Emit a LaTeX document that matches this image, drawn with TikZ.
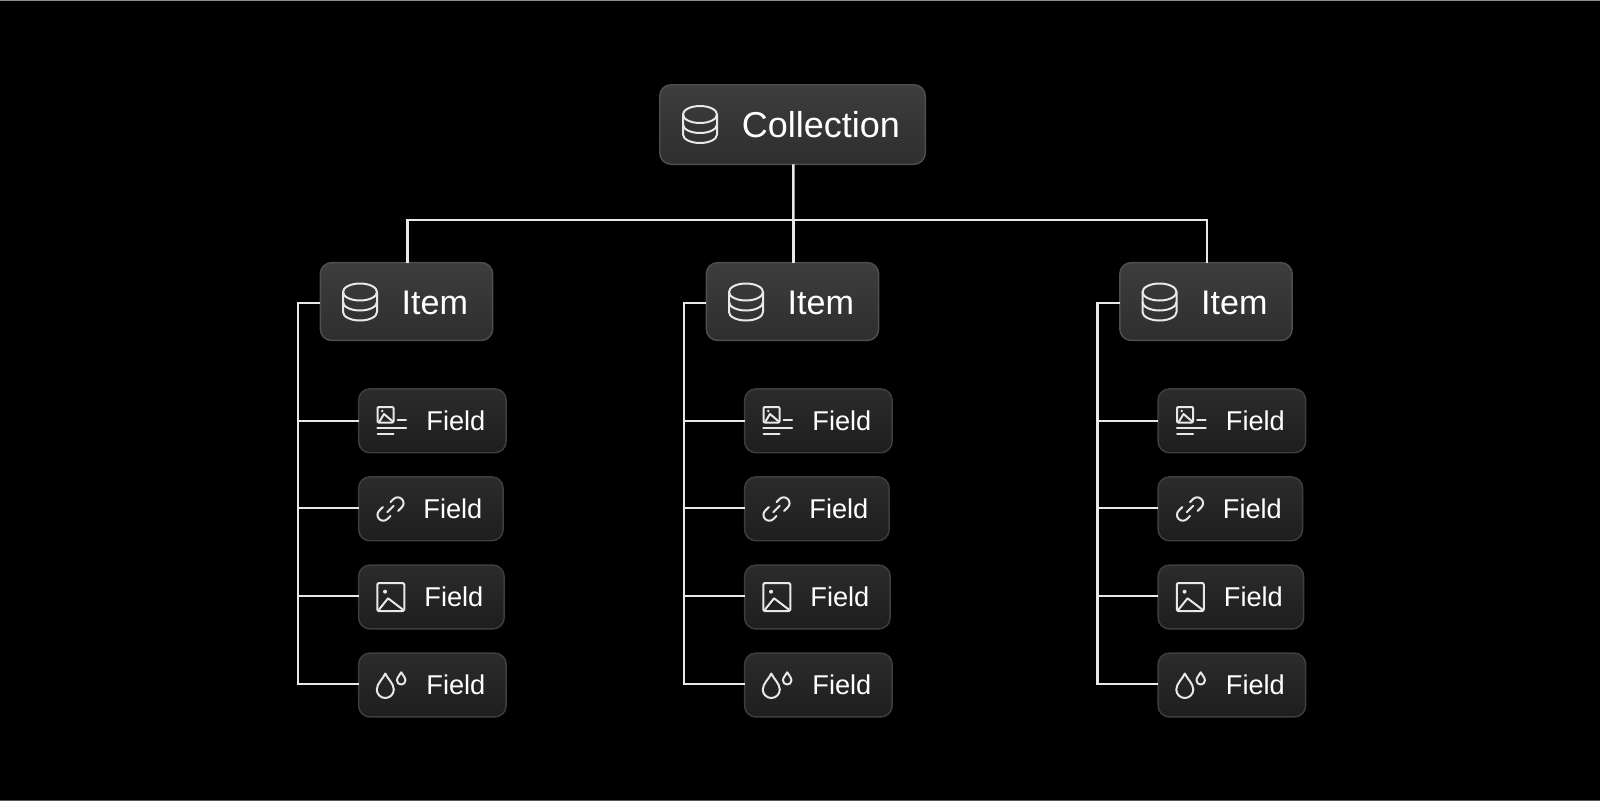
\documentclass[tikz,border=0pt]{standalone}
\usepackage{fontspec}
\setmainfont{Liberation Sans}
\definecolor{collTop}{HTML}{3D3D3D}
\definecolor{collBot}{HTML}{2E2E2E}
\definecolor{collEdge}{HTML}{4E4E4E}
\definecolor{fieldTop}{HTML}{2B2B2B}
\definecolor{fieldBot}{HTML}{1E1E1E}
\definecolor{fieldEdge}{HTML}{3E3E3E}
\definecolor{wire}{HTML}{E8E8E8}
\tikzset{
  boxbase/.style={rounded corners=8.5pt, line width=1.1pt, outer sep=0pt, align=right, text=white},
  collbox/.style={boxbase, draw=collEdge, top color=collTop, bottom color=collBot, font=\fontsize{27}{30}\selectfont,
    text width=161.25pt, inner xsep=18.95pt, minimum height=59.65pt},
  itembox/.style={boxbase, draw=collEdge, top color=collTop, bottom color=collBot, font=\fontsize{25.6}{30}\selectfont,
    text width=92.25pt, text height=19.5pt, inner xsep=18.5pt, minimum height=58.4pt},
  fieldbox/.style={boxbase, draw=fieldEdge, top color=fieldTop, bottom color=fieldBot, font=\fontsize{20.4}{24}\selectfont,
    text width=#1, inner xsep=15.575pt, minimum height=47.9pt, anchor=west},
  wireline/.style={wire, line width=1.8pt},
  iconline/.style={wire, line width=1.5pt, line cap=round, line join=round},
  dbicon/.pic={
    \draw[iconline] (0,-10) ellipse [x radius=17, y radius=8.5];
    \draw[iconline] (-17,-10) -- (-17,10) arc[start angle=180, end angle=0, x radius=17, y radius=8.5] -- (17,-10);
    \draw[iconline] (-17,0) arc[start angle=180, end angle=0, x radius=17, y radius=8.5];
  },
  texticon/.pic={
    \draw[iconline, rounded corners=0.8pt] (-14.5,-14) rectangle (1.5,1.5);
    \draw[iconline] (-12.5,0.5) -- (-8,-7) -- (0.8,0.5);
    \fill[wire] (-9.7,-10) circle (1.4);
    \draw[iconline] (5.5,-1) -- (14,-1);
    \draw[iconline, line width=1.9pt] (-14.5,7) -- (14,7);
    \draw[iconline] (-14.5,13) -- (1.5,13);
  },
  linkicon/.pic={
    \draw[iconline] (0,-7.7) -- (3.4,-11.1) arc[start angle=-135, end angle=45, radius=6.5] -- (8.5,2.2);
    \draw[iconline] (0,7.7) -- (-3.4,11.1) arc[start angle=45, end angle=225, radius=6.5] -- (-8.5,-2.2);
    \draw[iconline] (-3.5,3.5) -- (3.5,-3.5);
  },
  imageicon/.pic={
    \draw[iconline, rounded corners=1pt] (-13.5,-14) rectangle (13.5,14);
    \draw[iconline] (-11.7,12.5) -- (-2.7,1.3) -- (12,12.5);
    \fill[wire] (-5.7,-5.3) circle (2);
  },
  dropicon/.pic={
    \draw[iconline] (0,-12) .. controls (-2,-7) and (-8.5,-2) .. (-8.5,4) arc[start angle=180, end angle=0, radius=8.5] .. controls (8.5,-2) and (2,-7) .. cycle;
  }
}
\begin{document}
\begin{tikzpicture}[x=0.75pt, y=-0.75pt]
 \fill[black] (0,0) rectangle (1600,801);
 \useasboundingbox (0,0) rectangle (1600,801);
 \draw[color=black!45!white, line width=0.75pt] (0,0.5) -- (1600,0.5); %thin edge of the image
 \draw[color=black!65!white, line width=0.75pt] (0,800.5) -- (1600,800.5);
 \node[collbox] (coll) at (792.5,124.5) {Collection};
 \pic at (700,124.5) {dbicon};
 \coordinate (split) at (793.3,220);
 \foreach \col/\dx in {1/0, 2/386, 3/799.5} {
  \begin{scope}[shift={(\dx,0)}]
   \node[itembox] (item\col) at (406.5,301.5) {Item};
   \node[fieldbox=79.5pt] (fielda\col) at (358.6,420.8) {Field};
   \node[fieldbox=77.25pt] (fieldb\col) at (358.6,508.8) {Field};
   \node[fieldbox=78pt] (fieldc\col) at (358.6,597) {Field};
   \node[fieldbox=79.5pt] (fieldd\col) at (358.6,685) {Field};
   \coordinate (bus\col) at (297.8,302.7);
   \pic at (360,302) {dbicon};
   \pic at (392,421) {texticon};
   \pic[scale=0.9] at (390.5,509) {linkicon};
   \pic at (390.75,597) {imageicon};
   \pic at (385.3,685.5) {dropicon};
   \pic[scale=0.5] at (401.2,678.3) {dropicon};
   \draw[wireline] ([yshift=-0.9pt]item\col.west) -- (bus\col) |- ([yshift=0.9pt]fieldd\col.west);
   \draw[wireline] (bus\col |- fielda\col.west) -- (fielda\col.west);
   \draw[wireline] ([yshift=0.8pt]bus\col |- fieldb\col.west) -- ([yshift=0.8pt]fieldb\col.west);
   \draw[wireline] ([yshift=0.75pt]bus\col |- fieldc\col.west) -- ([yshift=0.75pt]fieldc\col.west);
  \end{scope}
  \draw[wireline] (split) -| ([xshift=0.6pt]item\col.north);
 }
 \draw[wireline] ([xshift=0.6pt]coll.south) -- (split);
\end{tikzpicture}
\end{document}
